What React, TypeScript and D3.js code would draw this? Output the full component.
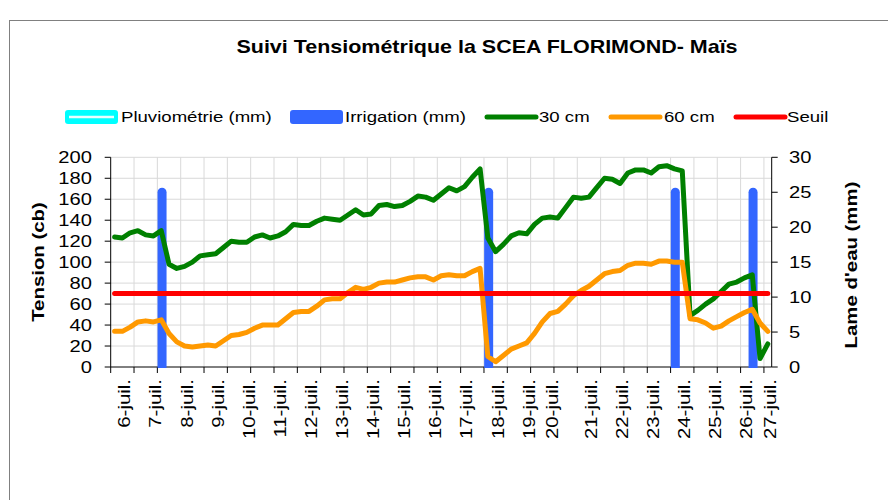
import React from 'react';
import * as d3 from 'd3';

const N_CATEGORIES = 85;

const tension30 = [
  124, 123, 128, 130, 126, 125, 130, 98, 94, 96, 100, 106, 107, 108, 114, 120, 119, 119, 124, 126,
  123, 125, 129, 136, 135, 135, 139, 142, 141, 140, 145, 150, 145, 146, 154, 155, 153, 154, 158, 163,
  162, 159, 165, 171, 168, 172, 181, 189, 123, 110, 117, 125, 128, 127, 136, 142, 143, 142, 152, 162,
  161, 162, 171, 180, 179, 175, 185, 188, 188, 185, 191, 192, 189, 187, 49, 54, 60, 65, 72, 79,
  81, 85, 88, 8, 22,
];

const tension60 = [
  34, 34, 38, 43, 44, 43, 45, 32, 24, 20, 19, 20, 21, 20, 25, 30, 31, 33, 37, 40,
  40, 40, 46, 52, 53, 53, 58, 64, 65, 65, 71, 76, 74, 76, 80, 81, 81, 83, 85, 86,
  86, 83, 87, 88, 87, 87, 91, 94, 10, 5, 11, 17, 20, 23, 32, 43, 51, 53, 60, 68,
  73, 77, 83, 89, 91, 92, 97, 99, 99, 98, 101, 101, 100, 100, 46, 45, 42, 37, 39, 44,
  48, 52, 55, 42, 34,
];

const seuilValue = 70;

const irrigationIndex = [6, 48, 72, 82];
const irrigationMm = [25, 25, 25, 25];

const dateLabels = [
  '6-juil.', '7-juil.', '8-juil.', '9-juil.', '10-juil.', '11-juil.', '12-juil.', '13-juil.',
  '14-juil.', '15-juil.', '16-juil.', '17-juil.', '18-juil.', '19-juil.', '20-juil.', '21-juil.',
  '22-juil.', '23-juil.', '24-juil.', '25-juil.', '26-juil.', '27-juil.',
];
const dateLabelIndex = [1, 5, 9, 13, 17, 21, 25, 29, 33, 37, 41, 45, 49, 53, 56, 61, 65, 69, 73, 77, 81, 84];

const leftTicks = [0, 20, 40, 60, 80, 100, 120, 140, 160, 180, 200];
const rightTicks = [0, 5, 10, 15, 20, 25, 30];

const legendItems = [
  { label: 'Pluviométrie (mm)', kind: 'pluvio', color: '#00FFFF' },
  { label: 'Irrigation (mm)', kind: 'bar', color: '#3366FF' },
  { label: '30 cm', kind: 'line', color: '#008000' },
  { label: '60 cm', kind: 'line', color: '#FF9900' },
  { label: 'Seuil', kind: 'line', color: '#FF0000' },
];

const FONT = "'Liberation Sans', Arial, sans-serif";
const SX = 1.2;

const T = ({ x, y, rot = 0, size, bold = false, anchor = 'start', dy = '0', children }: any) => (
  <text
    transform={`translate(${x},${y}) rotate(${rot}) scale(${SX},1)`}
    fontSize={size}
    fontWeight={bold ? 'bold' : 'normal'}
    textAnchor={anchor}
    dy={dy}
    fontFamily={FONT}
    fill="#000"
  >
    {children}
  </text>
);

export default function App() {
  const W = 888;
  const H = 500;
  const left = 110.7;
  const right = 771.7;
  const top = 157.3;
  const bottom = 367;

  const idx = d3.range(N_CATEGORIES);
  const xBand = d3.scaleBand<number>().domain(idx).range([left, right]).padding(0);
  const bw = xBand.bandwidth();
  const xc = (i: number) => (xBand(i) as number) + bw / 2;
  const yL = d3.scaleLinear().domain([0, 200]).range([bottom, top]);
  const yR = d3.scaleLinear().domain([0, 30]).range([bottom, top]);

  const line = d3
    .line<number>()
    .x((_, i) => xc(i))
    .y((d) => yL(d));

  const tickIdx = d3.range(0, N_CATEGORIES, 3);

  const legendX = [65, 290, 485, 609, 734];
  const legendTextX = [121, 345, 539, 664, 787];
  const legendY = 117;

  return (
    <svg
      width={W}
      height={H}
      style={{ position: 'absolute', left: 0, top: 0, background: '#fff' }}
    >
      <rect x={0} y={0} width={W} height={H} fill="#fff" />
      <rect x={9.5} y={20.5} width={900} height={600} fill="#fff" stroke="#808080" strokeWidth={1} />

      <T x={487} y={53} size={17.9} bold anchor="middle">
        Suivi Tensiométrique la SCEA FLORIMOND- Maïs
      </T>

      {/* legend */}
      {legendItems.map((it, k) => {
        const lx = legendX[k];
        let sw;
        if (it.kind === 'pluvio') {
          sw = (
            <g>
              <rect x={lx} y={legendY - 7} width={53} height={14} rx={3} fill={it.color} />
              <line x1={lx + 4} x2={lx + 49} y1={legendY} y2={legendY} stroke="#e8ffff" strokeWidth={2.5} />
            </g>
          );
        } else if (it.kind === 'bar') {
          sw = <rect x={lx} y={legendY - 7} width={53} height={14} rx={3} fill={it.color} />;
        } else {
          sw = (
            <line
              x1={lx + 2}
              x2={lx + 51}
              y1={legendY}
              y2={legendY}
              stroke={it.color}
              strokeWidth={5}
              strokeLinecap="round"
            />
          );
        }
        return (
          <g key={it.label}>
            {sw}
            <T x={legendTextX[k]} y={legendY} size={15.5} dy="0.35em">
              {it.label}
            </T>
          </g>
        );
      })}

      {/* gridlines */}
      <g stroke="#d9d9d9" strokeWidth={1}>
        {leftTicks.slice(1).map((t) => (
          <line key={'h' + t} x1={left} x2={right} y1={yL(t)} y2={yL(t)} />
        ))}
        {tickIdx.slice(1).map((i) => (
          <line key={'v' + i} x1={xBand(i)} x2={xBand(i)} y1={top} y2={bottom} />
        ))}
      </g>

      {/* axes */}
      <g stroke="#000" strokeWidth={1}>
        <line x1={left} x2={left} y1={top} y2={bottom} />
        <line x1={right} x2={right} y1={top} y2={bottom} />
        <line x1={left} x2={right} y1={bottom} y2={bottom} />
        {leftTicks.map((t) => (
          <line key={'lt' + t} x1={left - 6} x2={left} y1={yL(t)} y2={yL(t)} />
        ))}
        {rightTicks.map((t) => (
          <line key={'rt' + t} x1={right} x2={right + 6} y1={yR(t)} y2={yR(t)} />
        ))}
        {tickIdx.map((i) => (
          <line key={'xt' + i} x1={xBand(i)} x2={xBand(i)} y1={bottom} y2={bottom + 6} />
        ))}
      </g>

      {/* irrigation bars */}
      <defs>
        <clipPath id="clipBottom">
          <rect x={0} y={0} width={W} height={bottom + 1} />
        </clipPath>
      </defs>
      <g clipPath="url(#clipBottom)">
        {irrigationIndex.map((i, k) => (
          <line
            key={'irr' + k}
            x1={xc(i) + 0.8}
            x2={xc(i) + 0.8}
            y1={yR(0)}
            y2={yR(irrigationMm[k])}
            stroke="#3366FF"
            strokeWidth={9}
            strokeLinecap="round"
          />
        ))}
      </g>

      {/* lines */}
      <path d={line(tension30) as string} fill="none" stroke="#008000" strokeWidth={5} strokeLinejoin="round" strokeLinecap="round" />
      <path d={line(tension60) as string} fill="none" stroke="#FF9900" strokeWidth={5} strokeLinejoin="round" strokeLinecap="round" />
      <line
        x1={xc(0)}
        x2={xc(N_CATEGORIES - 1)}
        y1={yL(seuilValue)}
        y2={yL(seuilValue)}
        stroke="#FF0000"
        strokeWidth={5}
        strokeLinecap="round"
      />

      {/* tick labels */}
      {leftTicks.map((t) => (
        <T key={'ll' + t} x={92} y={yL(t)} size={16.8} anchor="end" dy="0.35em">
          {t}
        </T>
      ))}
      {rightTicks.map((t) => (
        <T key={'rl' + t} x={789} y={yR(t)} size={16.8} anchor="start" dy="0.35em">
          {t}
        </T>
      ))}
      {dateLabels.map((lab, k) => (
        <T key={lab} x={xc(dateLabelIndex[k]) + 2} y={379} rot={-90} size={17} anchor="end" dy="0.35em">
          {lab}
        </T>
      ))}

      <T x={38} y={262} rot={-90} size={17} bold anchor="middle" dy="0.35em">
        Tension (cb)
      </T>
      <T x={851} y={265} rot={-90} size={17} bold anchor="middle" dy="0.35em">
        Lame d'eau (mm)
      </T>
    </svg>
  );
}
